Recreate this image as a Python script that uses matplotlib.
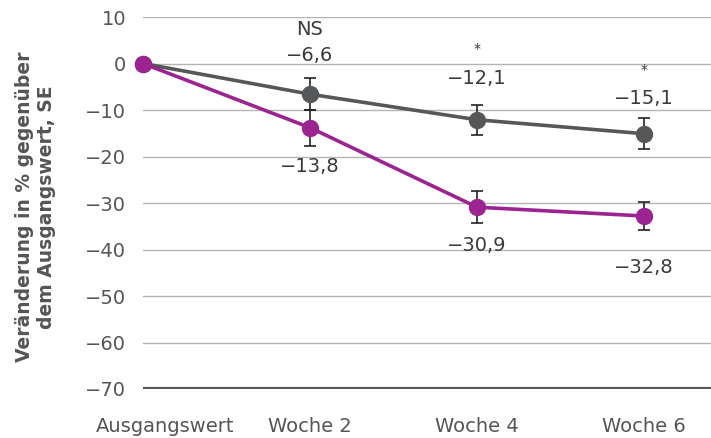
import matplotlib
matplotlib.use("Agg")
import matplotlib.pyplot as plt
import matplotlib.transforms as mtransforms

categories = ["Ausgangswert", "Woche 2", "Woche 4", "Woche 6"]
gray_values = [0, -6.6, -12.1, -15.1]
gray_se = [0, 3.4, 3.2, 3.3]
purple_values = [0, -13.8, -30.9, -32.8]
purple_se = [0, 3.9, 3.4, 3.1]
gray_labels = ["", "−6,6", "−12,1", "−15,1"]
purple_labels = ["", "−13,8", "−30,9", "−32,8"]
signif = ["", "NS", "*", "*"]
yticks = [10, 0, -10, -20, -30, -40, -50, -60, -70]

# label offsets from the marker centre, in pixels (positive = up)
gray_lab_off = [0, 39, 41, 35]
purple_lab_off = [0, -39, -38, -51]
signif_off = [0, 65, 78, 71]

plt.rcParams["font.family"] = ["DejaVu Sans"]
TXT = "#3a3a3a"
GRAY = "#555759"
PURPLE = "#9b2490"
FS = 14

fig = plt.figure(figsize=(7.11, 4.38), dpi=100)
W, H = 711, 438
ax = fig.add_axes([143 / W, 1 - 389 / H, (711 - 143) / W, (389 - 17) / H])
ax.set_xlim(0, 3.4)
ax.set_ylim(-70, 10)

for t in yticks[:-1]:
    ax.axhline(t, color="#b4b4b4", lw=1.0, zorder=0)
ax.axhline(-70, color=GRAY, lw=3, zorder=1)
for s in ax.spines.values():
    s.set_visible(False)

x = list(range(len(categories)))
ax.errorbar(x, gray_values, yerr=gray_se, color=GRAY, lw=2.6, marker="o",
            ms=11.5, ecolor="#222222", elinewidth=1.2, capsize=4, capthick=1.2,
            zorder=3, clip_on=False)
ax.errorbar(x, purple_values, yerr=purple_se, color=PURPLE, lw=2.6, marker="o",
            ms=11.5, ecolor="#222222", elinewidth=1.2, capsize=4, capthick=1.2,
            zorder=4, clip_on=False)

px = 72 / 100  # pixels -> points
for i in range(1, 4):
    ax.annotate(gray_labels[i], (x[i], gray_values[i]),
                xytext=(0, gray_lab_off[i] * px), textcoords="offset points",
                ha="center", va="center", fontsize=FS, color=TXT)
    ax.annotate(signif[i], (x[i], gray_values[i]),
                xytext=(0, signif_off[i] * px), textcoords="offset points",
                ha="center", va="center" if i == 1 else "top",
                fontsize=FS if i == 1 else 10, color=TXT)
    ax.annotate(purple_labels[i], (x[i], purple_values[i]),
                xytext=(0, purple_lab_off[i] * px), textcoords="offset points",
                ha="center", va="center", fontsize=FS, color=TXT)

ax.set_yticks(yticks)
ax.set_yticklabels([str(v).replace("-", "−") for v in yticks])
ax.set_xticks(x)
ax.set_xticklabels(categories)
ax.tick_params(axis="both", length=0, labelsize=FS, colors="#555555")
ax.tick_params(axis="y", pad=12)
ax.tick_params(axis="x", pad=20)
first = ax.get_xticklabels()[0]
first.set_transform(first.get_transform() + mtransforms.ScaledTranslation(22 / 100, 0, fig.dpi_scale_trans))

fig.text(36 / W, 1 - 207 / H, "Veränderung in % gegenüber\ndem Ausgangswert, SE",
         rotation=90, ha="center", va="center", fontsize=13.5, fontweight="bold",
         color="#555555", linespacing=1.2)

fig.savefig("out.png", dpi=100)
